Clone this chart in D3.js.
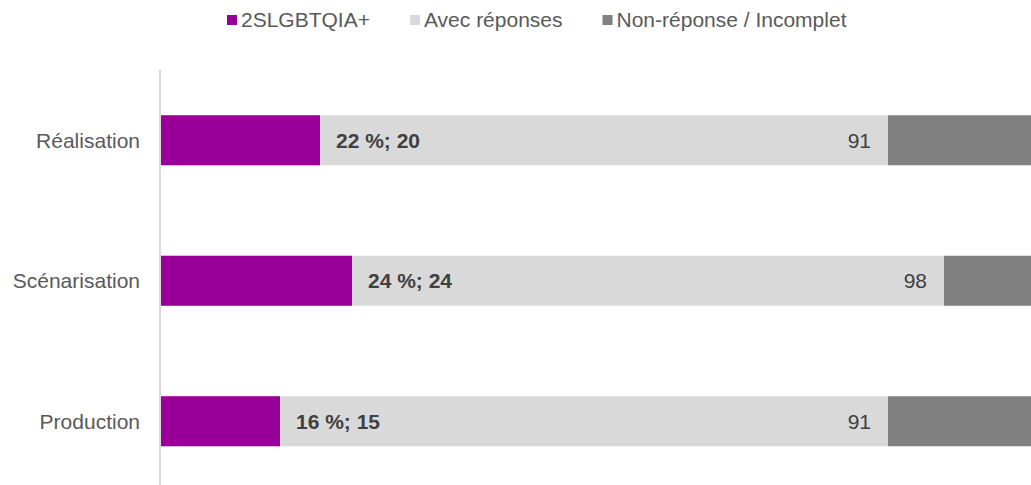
<!DOCTYPE html>
<html>
<head>
    <meta charset="utf-8">
    <title>2SLGBTQIA+ par fonction</title>
    <script src="https://d3js.org/d3.v7.min.js"></script>
    <style>
        body { margin: 0; background: #fff; }
        svg { font-family: "Liberation Sans", Arial, sans-serif; }
        .cat { fill: #595959; font-size: 21px; }
        .legend text { fill: #595959; font-size: 21px; }
        .pct { fill: #404040; font-size: 21px; font-weight: bold; }
        .tot { fill: #404040; font-size: 21px; }
    </style>
</head>
<body>
    <svg id="chart" width="1031" height="485"></svg>

    <script>
        // values
        var categories = ["Réalisation", "Scénarisation", "Production"];
        var lgbtCounts = [20, 24, 15];
        var withAnswers = [91, 98, 91];
        var noAnswer = [30, 23, 30];   // cut off at the right edge, estimated
        var legendLabels = ["2SLGBTQIA+", "Avec réponses", "Non-réponse / Incomplet"];
        var colors = ["#990099", "#d9d9d9", "#808080"];

        var svg = d3.select("#chart");
        var marginLeft = 160, marginTop = 70;

        var x = d3.scaleLinear().domain([0, 1]).range([marginLeft, marginLeft + 8]);
        var y = d3.scaleBand().domain(categories)
            .range([marginTop, marginTop + 3 * 140.5])
            .paddingInner(0.644).paddingOuter(0.322);

        var rows = categories.map(function(c, i) {
            return { cat: c, lgbt: lgbtCounts[i], total: withAnswers[i], none: noAnswer[i] };
        });

        var g = svg.selectAll("g.row").data(rows).enter().append("g").attr("class", "row");

        // light grey = all answers, purple drawn on top of it
        g.append("rect")
            .attr("x", x(0))
            .attr("y", function(d) { return y(d.cat); })
            .attr("width", function(d) { return x(d.total) - x(0); })
            .attr("height", y.bandwidth())
            .attr("fill", colors[1]);

        g.append("rect")
            .attr("x", x(0))
            .attr("y", function(d) { return y(d.cat); })
            .attr("width", function(d) { return x(d.lgbt) - x(0); })
            .attr("height", y.bandwidth())
            .attr("fill", colors[0]);

        g.append("rect")
            .attr("x", function(d) { return x(d.total); })
            .attr("y", function(d) { return y(d.cat); })
            .attr("width", function(d) { return x(d.none) - x(0); })
            .attr("height", y.bandwidth())
            .attr("fill", colors[2]);

        // labels
        g.append("text")
            .attr("class", "pct")
            .attr("x", function(d) { return x(d.lgbt) + 16; })
            .attr("y", function(d) { return y(d.cat) + y.bandwidth() / 2; })
            .attr("dy", "0.35em")
            .text(function(d) { return Math.round(d.lgbt / d.total * 100) + " %;  " + d.lgbt; });

        g.append("text")
            .attr("class", "tot")
            .attr("text-anchor", "end")
            .attr("x", function(d) { return x(d.total) - 17; })
            .attr("y", function(d) { return y(d.cat) + y.bandwidth() / 2; })
            .attr("dy", "0.35em")
            .text(function(d) { return d.total; });

        g.append("text")
            .attr("class", "cat")
            .attr("text-anchor", "end")
            .attr("x", marginLeft - 20)
            .attr("y", function(d) { return y(d.cat) + y.bandwidth() / 2; })
            .attr("dy", "0.35em")
            .text(function(d) { return d.cat; });

        // vertical axis line
        svg.append("line")
            .attr("x1", marginLeft).attr("x2", marginLeft)
            .attr("y1", marginTop).attr("y2", 485)
            .attr("stroke", "#d9d9d9")
            .attr("stroke-width", 2);

        // legend
        var leg = svg.append("g").attr("class", "legend");
        var lx = 227;
        legendLabels.forEach(function(lab, i) {
            leg.append("rect")
                .attr("x", lx).attr("y", 15)
                .attr("width", 10).attr("height", 10)
                .attr("fill", colors[i]);
            var t = leg.append("text")
                .attr("x", lx + 14).attr("y", 20)
                .attr("dy", "0.35em")
                .text(lab);
            lx += 14 + t.node().getComputedTextLength() + 40;
        });
    </script>
</body>
</html>
